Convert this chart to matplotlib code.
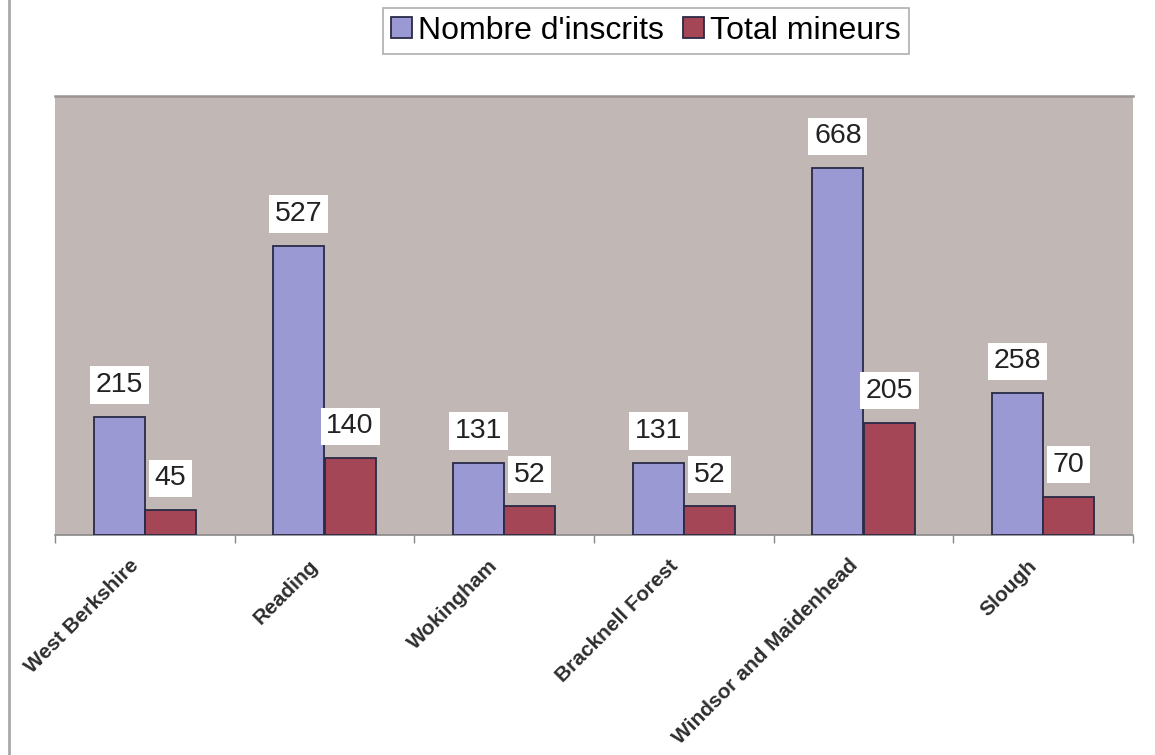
import numpy as np
import matplotlib.pyplot as plt
from matplotlib.lines import Line2D
from matplotlib.transforms import ScaledTranslation

plt.rcParams['font.family'] = ['Liberation Sans', 'DejaVu Sans']

# données
districts = ['West Berkshire', 'Reading', 'Wokingham', 'Bracknell Forest',
             'Windsor and Maidenhead', 'Slough']
inscrits = [215, 527, 131, 131, 668, 258]
mineurs = [45, 140, 52, 52, 205, 70]
series_names = ["Nombre d'inscrits", 'Total mineurs']

fig = plt.figure(figsize=(11.55, 7.55), dpi=100)
ax = fig.add_axes([55 / 1155, 1 - 535 / 755, (1133 - 55) / 1155, (535 - 96) / 755])
ax.set_facecolor('#C1B8B6')

x = np.arange(len(districts))
w = 0.285
edge = '#2A2A48'
b1 = ax.bar(x - w / 2, inscrits, w, color='#9B99D4', edgecolor=edge, linewidth=1.3,
            label=series_names[0], zorder=3)
b2 = ax.bar(x + w / 2, mineurs, w, color='#A54656', edgecolor=edge, linewidth=1.3,
            label=series_names[1], zorder=3)

for bars, vals in ((b1, inscrits), (b2, mineurs)):
    for rect, v in zip(bars, vals):
        ax.annotate(str(v), (rect.get_x() + rect.get_width() / 2, v),
                    xytext=(0, 23), textcoords='offset points',
                    ha='center', va='center', fontsize=20.5, color='#222222',
                    bbox=dict(boxstyle='square,pad=0.2', fc='white', ec='none'),
                    zorder=4)

ax.set_xlim(-0.5, len(districts) - 0.5)
ax.set_ylim(0, 800)
ax.set_yticks([])

ax.set_xticks(x)
ax.set_xticklabels(districts, rotation=45, ha='right', va='center',
                   rotation_mode='anchor', fontsize=15, fontweight='bold',
                   color='#2E2E2E')
ax.tick_params(axis='x', which='major', length=0, pad=20)
decal = ScaledTranslation(-9 / 100, 0, fig.dpi_scale_trans)
for lab in ax.get_xticklabels():
    lab.set_transform(lab.get_transform() + decal)
ax.set_xticks(np.arange(-0.5, len(districts), 1.0), minor=True)
ax.tick_params(axis='x', which='minor', length=6, color='#888888', width=1)

for side in ('left', 'right'):
    ax.spines[side].set_visible(False)
ax.spines['top'].set_color('#9A9492')
ax.spines['top'].set_linewidth(1.8)
ax.spines['bottom'].set_color('#888888')
ax.spines['bottom'].set_linewidth(1.2)

leg = fig.legend(handles=[b1, b2], loc='center', bbox_to_anchor=(646 / 1155, 1 - 31 / 755),
                 ncol=2, fontsize=23, frameon=True, fancybox=False,
                 handlelength=0.65, handleheight=0.65, handletextpad=0.2,
                 columnspacing=0.6, borderpad=0.25, borderaxespad=0)
leg.get_frame().set_edgecolor('#999999')
leg.get_frame().set_linewidth(1.2)

# trait vertical à gauche du cadre
fig.add_artist(Line2D([9 / 1155, 9 / 1155], [0, 1], color='#A8A8A8', linewidth=2,
                      transform=fig.transFigure))

fig.savefig('out.png', dpi=100, facecolor='white')
